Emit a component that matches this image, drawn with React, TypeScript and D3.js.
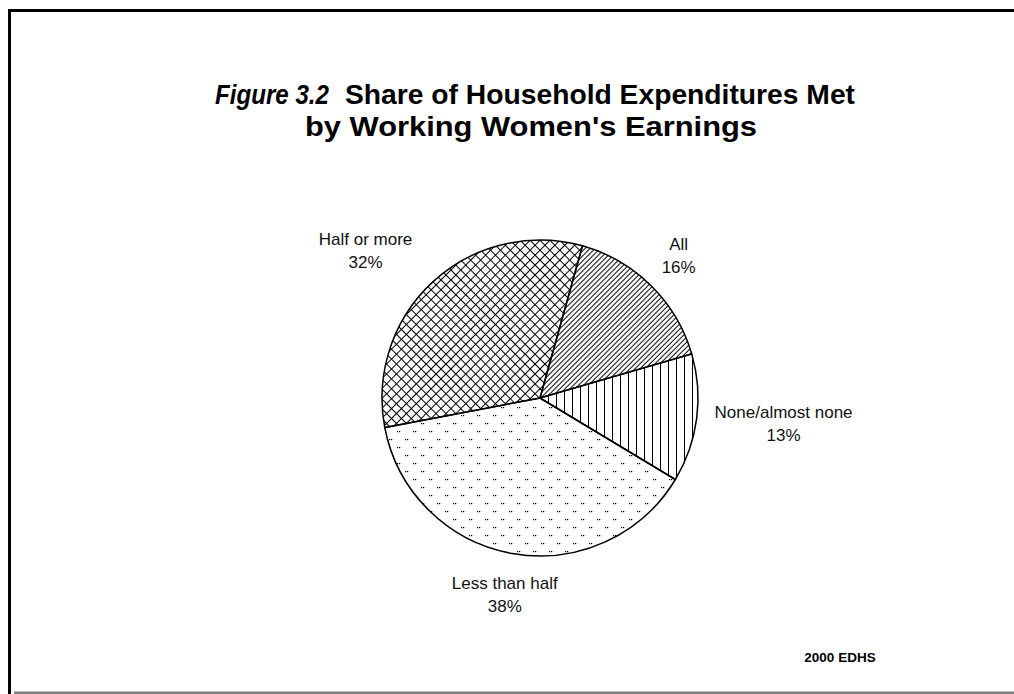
import React from "react";
import * as d3 from "d3";

// slices go clockwise from the "All" wedge
const categories = ["All", "None/almost none", "Less than half", "Half or more"];
const shares = [16, 13, 38, 32];
const shareLabels = ["16%", "13%", "38%", "32%"];
const fills = ["url(#diag)", "url(#vert)", "url(#dots)", "url(#cross)"];

const titleLead = "Figure 3.2";
const titleRest = "Share of Household Expenditures Met";
const titleLine2 = "by Working Women's Earnings";
const source = "2000 EDHS";

const W = 1014;
const H = 694;
const cx = 540;
const cy = 398;
const radius = 158;
const startDeg = 15.6;
// hand placement of the labels, as in the original figure
const labelNudge = [-8, 0, 7, -16];

export default function App() {
  const start = (startDeg * Math.PI) / 180;
  const pie = d3
    .pie<number>()
    .sort(null)
    .value((d) => d)
    .startAngle(start)
    .endAngle(start + 2 * Math.PI);
  const arcs = pie(shares);
  const arc = d3.arc<d3.PieArcDatum<number>>().innerRadius(0).outerRadius(radius);

  const labelFont = "'Liberation Sans', Arial, sans-serif";
  const titleFont = "'Liberation Sans', Arial, sans-serif";

  return (
    <svg
      width={W}
      height={H}
      style={{ position: "absolute", left: 0, top: 0, display: "block", background: "#fff" }}
    >
      <defs>
        <pattern id="diag" width={3.54} height={3.54} patternUnits="userSpaceOnUse" patternTransform="rotate(45)">
          <line x1={0.5} y1={0} x2={0.5} y2={3.54} stroke="#000" strokeWidth={1} />
        </pattern>
        <pattern id="vert" width={8} height={8} patternUnits="userSpaceOnUse">
          <line x1={0.5} y1={0} x2={0.5} y2={8} stroke="#000" strokeWidth={1} />
        </pattern>
        <pattern id="cross" width={7} height={7} patternUnits="userSpaceOnUse" patternTransform="rotate(45)">
          <line x1={0.5} y1={0} x2={0.5} y2={7} stroke="#000" strokeWidth={1} />
          <line x1={0} y1={0.5} x2={7} y2={0.5} stroke="#000" strokeWidth={1} />
        </pattern>
        <pattern id="dots" width={16} height={16} patternUnits="userSpaceOnUse">
          <rect x={1} y={1} width={1.2} height={1.2} fill="#000" />
          <rect x={3} y={1} width={1.2} height={1.2} fill="#000" />
          <rect x={9} y={9} width={1.2} height={1.2} fill="#000" />
          <rect x={11} y={9} width={1.2} height={1.2} fill="#000" />
        </pattern>
      </defs>

      {/* frame */}
      <line x1={8} y1={10.5} x2={W} y2={10.5} stroke="#000" strokeWidth={3} />
      <line x1={9.5} y1={9} x2={9.5} y2={H} stroke="#000" strokeWidth={3} />
      <line x1={14} y1={693} x2={W} y2={693} stroke="#808080" strokeWidth={3} />

      {/* title */}
      <g fontFamily={titleFont} fontSize={28} fill="#000">
        <text x={215} y={104} fontStyle="italic" fontWeight="bold" textLength={114} lengthAdjust="spacingAndGlyphs">
          {titleLead}
        </text>
        <text x={345} y={104} fontWeight="bold" textLength={510} lengthAdjust="spacingAndGlyphs">
          {titleRest}
        </text>
        <text x={305} y={135.5} fontWeight="bold" textLength={452} lengthAdjust="spacingAndGlyphs">
          {titleLine2}
        </text>
      </g>

      {/* pie */}
      <g transform={`translate(${cx},${cy})`}>
        {arcs.map((a, i) => (
          <path key={categories[i]} d={arc(a) || ""} fill={fills[i]} stroke="#000" strokeWidth={1.5} />
        ))}
      </g>

      {/* labels */}
      <g fontFamily={labelFont} fontSize={17} textAnchor="middle" fill="#111">
        {arcs.map((a, i) => {
          const mid = (a.startAngle + a.endAngle) / 2;
          const longest = Math.max(categories[i].length, shareLabels[i].length);
          const hw = longest * 4.6;
          const r = 200;
          const x = cx + Math.sin(mid) * r + Math.sin(mid) * hw * 0.62 + labelNudge[i];
          const y = cy - Math.cos(mid) * r;
          return (
            <text key={categories[i]} x={x} y={y}>
              <tspan x={x} dy={-5.5}>{categories[i]}</tspan>
              <tspan x={x} dy={23}>{shareLabels[i]}</tspan>
            </text>
          );
        })}
      </g>

      <text
        x={840}
        y={662}
        textAnchor="middle"
        fontFamily={labelFont}
        fontWeight="bold"
        fontSize={13.5}
      >
        {source}
      </text>
    </svg>
  );
}
